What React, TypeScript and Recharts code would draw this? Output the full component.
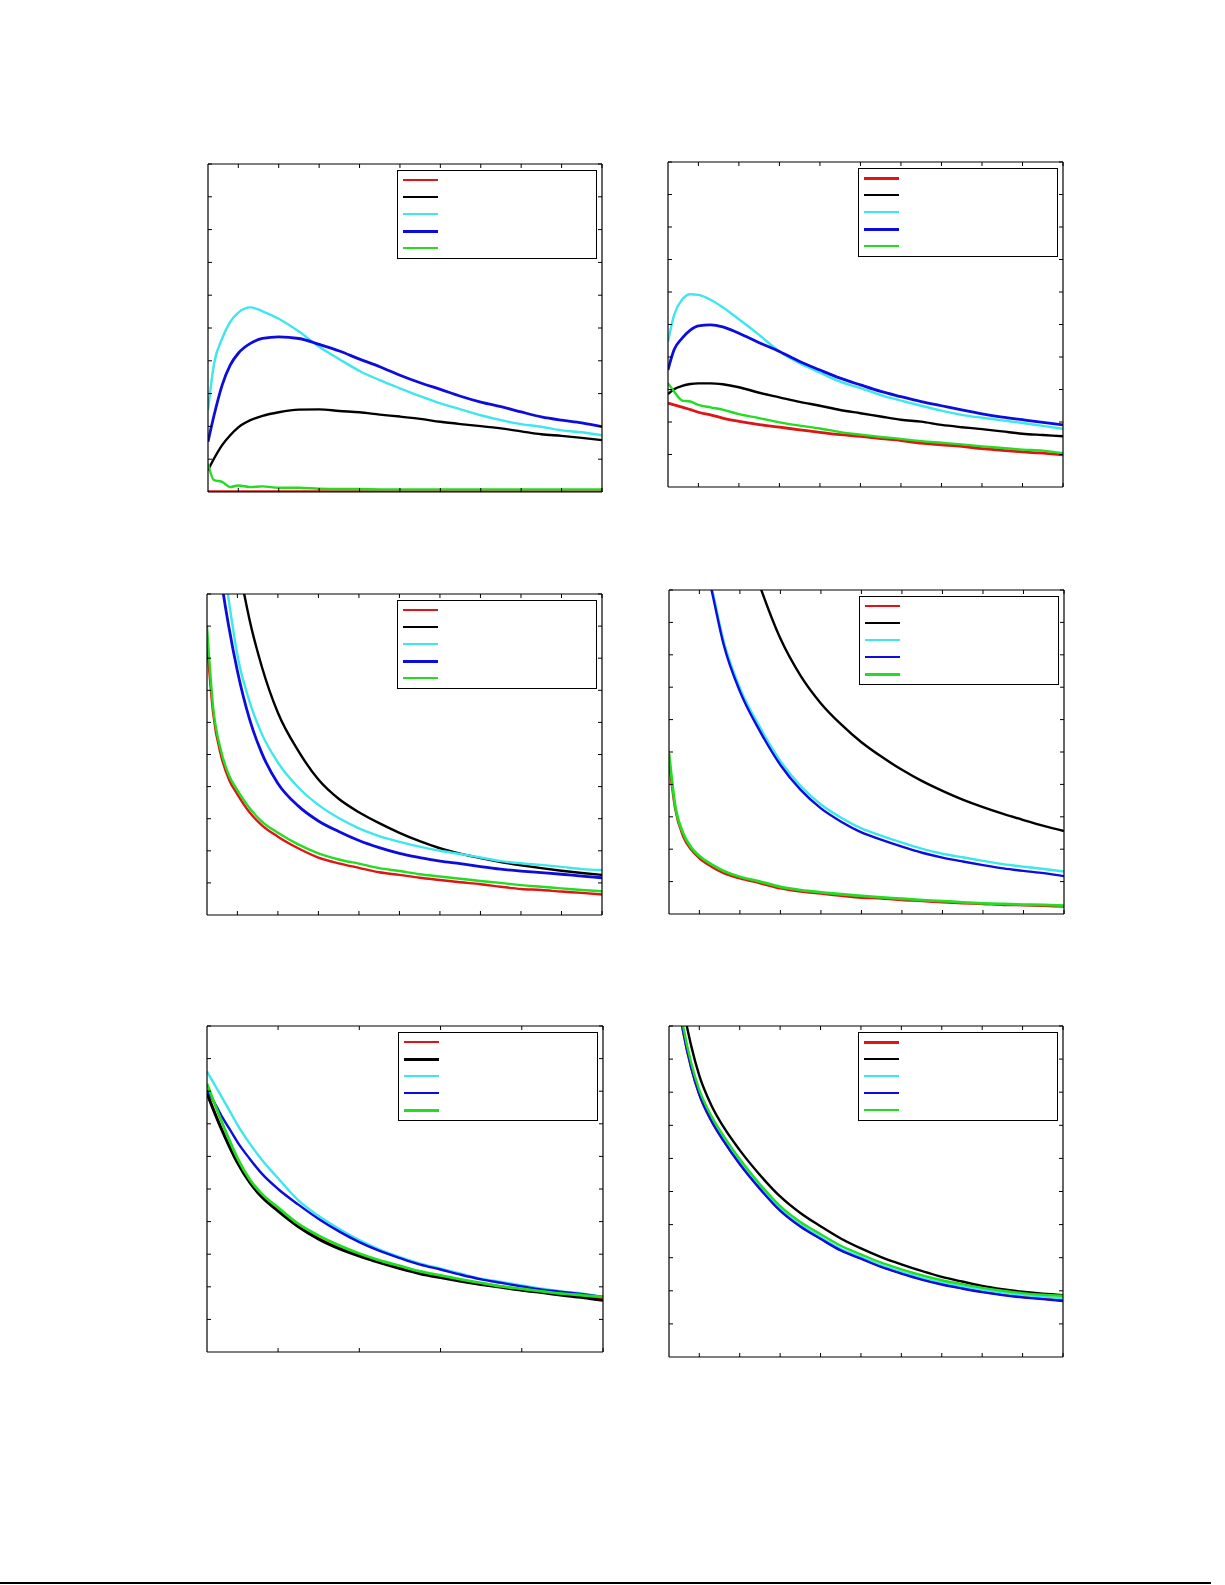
import React from "react";
import { LineChart, Line, XAxis, YAxis, Legend } from "recharts";

// shared x grid (data units), axis ticks
const X_VALUES = [0.25, 0.4, 0.6, 0.8, 1.0, 1.3, 1.6, 2.0, 2.5, 3.0, 3.5, 4.0, 4.5, 5.0, 5.5, 6.0, 6.5, 7.0, 7.5, 8.0, 8.5, 9.0, 9.5, 10];
const X_TICKS = [1, 2, 3, 4, 5, 6, 7, 8, 9, 10];
const X_TICKS_WIDE = [2, 4, 6, 8, 10];
const Y_TICKS = [0, 1, 2, 3, 4, 5, 6, 7, 8, 9, 10];

// panel 1 (top left)
const P1_RED = [0.02, 0.02, 0.02, 0.02, 0.02, 0.02, 0.02, 0.02, 0.02, 0.02, 0.02, 0.02, 0.02, 0.02, 0.02, 0.02, 0.02, 0.02, 0.02, 0.02, 0.02, 0.02, 0.02, 0.02];
const P1_BLACK = [0.66, 1.02, 1.43, 1.73, 1.97, 2.19, 2.32, 2.43, 2.51, 2.52, 2.47, 2.43, 2.36, 2.3, 2.23, 2.14, 2.07, 2.01, 1.94, 1.85, 1.76, 1.71, 1.65, 1.58];
const P1_CYAN = [2.49, 3.91, 4.68, 5.19, 5.47, 5.63, 5.51, 5.28, 4.89, 4.43, 4.05, 3.69, 3.41, 3.16, 2.92, 2.7, 2.52, 2.34, 2.19, 2.07, 1.99, 1.88, 1.82, 1.73];
const P1_BLUE = [1.53, 2.34, 3.26, 3.87, 4.23, 4.53, 4.68, 4.73, 4.68, 4.5, 4.3, 4.05, 3.82, 3.56, 3.33, 3.13, 2.92, 2.74, 2.6, 2.44, 2.29, 2.19, 2.11, 1.99];
const P1_GREEN = [0.87, 0.36, 0.31, 0.15, 0.2, 0.15, 0.17, 0.13, 0.13, 0.1, 0.09, 0.09, 0.08, 0.08, 0.08, 0.08, 0.08, 0.08, 0.08, 0.08, 0.08, 0.08, 0.08, 0.08];

// panel 2 (top right)
const P2_RED = [2.58, 2.53, 2.46, 2.38, 2.3, 2.22, 2.12, 2.02, 1.92, 1.84, 1.76, 1.68, 1.61, 1.56, 1.49, 1.43, 1.35, 1.3, 1.25, 1.18, 1.13, 1.08, 1.04, 0.99];
const P2_BLACK = [2.86, 3.01, 3.11, 3.17, 3.19, 3.19, 3.16, 3.07, 2.9, 2.76, 2.62, 2.5, 2.37, 2.27, 2.17, 2.07, 2.01, 1.91, 1.84, 1.78, 1.71, 1.64, 1.6, 1.56];
const P2_CYAN = [4.47, 5.29, 5.77, 5.93, 5.91, 5.76, 5.53, 5.16, 4.68, 4.17, 3.81, 3.52, 3.24, 3.04, 2.83, 2.66, 2.5, 2.35, 2.22, 2.13, 2.05, 1.97, 1.88, 1.79];
const P2_BLUE = [3.6, 4.22, 4.58, 4.83, 4.96, 4.99, 4.93, 4.73, 4.44, 4.17, 3.86, 3.6, 3.35, 3.14, 2.94, 2.78, 2.63, 2.5, 2.37, 2.25, 2.15, 2.07, 1.99, 1.91];
const P2_GREEN = [3.19, 2.94, 2.66, 2.63, 2.53, 2.45, 2.38, 2.24, 2.12, 1.99, 1.89, 1.8, 1.69, 1.61, 1.54, 1.48, 1.41, 1.36, 1.31, 1.25, 1.2, 1.15, 1.12, 1.04];

// panel 3 (middle left)
const P3_RED = [8.5, 6.3, 4.95, 4.2, 3.76, 3.2, 2.8, 2.44, 2.08, 1.79, 1.61, 1.47, 1.33, 1.25, 1.16, 1.09, 1.02, 0.96, 0.88, 0.81, 0.78, 0.73, 0.69, 0.64];
const P3_BLACK = [19, 17, 15, 13, 11.2, 9.2, 7.75, 6.3, 5.12, 4.22, 3.62, 3.2, 2.86, 2.56, 2.3, 2.08, 1.91, 1.77, 1.65, 1.55, 1.46, 1.38, 1.31, 1.25];
const P3_CYAN = [16, 14, 11.5, 9.7, 8.1, 6.65, 5.65, 4.75, 3.98, 3.43, 3.02, 2.7, 2.46, 2.28, 2.13, 2.0, 1.9, 1.79, 1.68, 1.61, 1.56, 1.5, 1.43, 1.4];
const P3_BLUE = [15, 13, 10.5, 8.9, 7.6, 6.1, 5.05, 4.1, 3.4, 2.93, 2.6, 2.32, 2.1, 1.92, 1.79, 1.68, 1.6, 1.51, 1.43, 1.37, 1.32, 1.27, 1.21, 1.16];
const P3_GREEN = [9.0, 6.5, 5.1, 4.33, 3.89, 3.33, 2.92, 2.56, 2.2, 1.92, 1.73, 1.6, 1.46, 1.37, 1.27, 1.2, 1.13, 1.06, 1.0, 0.93, 0.88, 0.83, 0.78, 0.74];

// panel 4 (middle right)
const P4_RED = [4.71, 3.26, 2.39, 1.98, 1.72, 1.46, 1.26, 1.1, 0.95, 0.79, 0.69, 0.63, 0.56, 0.5, 0.48, 0.43, 0.4, 0.36, 0.33, 0.31, 0.28, 0.27, 0.25, 0.23];
const P4_BLACK = [24, 22, 20, 18, 17, 15, 13.5, 12, 10.1, 8.5, 7.35, 6.5, 5.85, 5.3, 4.85, 4.45, 4.1, 3.8, 3.53, 3.3, 3.09, 2.9, 2.72, 2.56];
const P4_CYAN = [20.1, 18.1, 15.6, 13.6, 11.7, 10.1, 8.42, 6.98, 5.75, 4.72, 3.95, 3.38, 2.97, 2.64, 2.41, 2.2, 2.01, 1.86, 1.75, 1.64, 1.54, 1.46, 1.39, 1.31];
const P4_BLUE = [20, 18, 15.5, 13.5, 11.6, 10.0, 8.31, 6.87, 5.63, 4.6, 3.83, 3.26, 2.85, 2.52, 2.29, 2.08, 1.89, 1.74, 1.62, 1.51, 1.41, 1.33, 1.26, 1.17];
const P4_GREEN = [4.96, 3.37, 2.49, 2.05, 1.79, 1.53, 1.33, 1.15, 1.0, 0.84, 0.74, 0.67, 0.61, 0.56, 0.51, 0.47, 0.43, 0.4, 0.36, 0.33, 0.31, 0.29, 0.28, 0.26];

// panel 5 (bottom left)
const P5_RED = [7.95, 7.48, 6.88, 6.33, 5.83, 5.23, 4.78, 4.35, 3.87, 3.49, 3.2, 2.97, 2.77, 2.59, 2.43, 2.31, 2.2, 2.1, 2.01, 1.92, 1.85, 1.77, 1.7, 1.62];
const P5_BLACK = [7.92, 7.45, 6.85, 6.3, 5.8, 5.2, 4.75, 4.32, 3.84, 3.46, 3.17, 2.94, 2.74, 2.56, 2.4, 2.28, 2.17, 2.07, 1.98, 1.89, 1.82, 1.74, 1.67, 1.58];
const P5_CYAN = [8.61, 8.28, 7.85, 7.41, 6.97, 6.4, 5.9, 5.33, 4.65, 4.17, 3.78, 3.43, 3.14, 2.91, 2.71, 2.56, 2.4, 2.25, 2.15, 2.04, 1.94, 1.86, 1.79, 1.69];
const P5_BLUE = [8.03, 7.72, 7.26, 6.85, 6.44, 5.93, 5.47, 5.0, 4.52, 4.08, 3.7, 3.37, 3.1, 2.88, 2.68, 2.53, 2.37, 2.23, 2.12, 2.01, 1.91, 1.84, 1.77, 1.69];
const P5_GREEN = [8.23, 7.74, 7.1, 6.5, 5.95, 5.3, 4.85, 4.43, 3.93, 3.57, 3.27, 3.02, 2.81, 2.64, 2.47, 2.35, 2.23, 2.12, 2.01, 1.94, 1.86, 1.79, 1.74, 1.69];

// panel 6 (bottom right)
const P6_RED = [12.52, 11.42, 9.86, 8.76, 7.95, 7.15, 6.55, 5.85, 5.1, 4.44, 3.96, 3.59, 3.24, 2.99, 2.74, 2.54, 2.36, 2.21, 2.09, 1.98, 1.89, 1.82, 1.77, 1.71];
const P6_BLACK = [14, 12.5, 10.6, 9.4, 8.5, 7.6, 6.95, 6.25, 5.5, 4.85, 4.35, 3.95, 3.58, 3.28, 3.02, 2.8, 2.6, 2.42, 2.28, 2.15, 2.05, 1.97, 1.91, 1.87];
const P6_CYAN = [12.55, 11.45, 9.89, 8.79, 7.98, 7.18, 6.58, 5.88, 5.13, 4.47, 3.99, 3.62, 3.27, 3.02, 2.77, 2.57, 2.39, 2.25, 2.13, 2.03, 1.94, 1.87, 1.82, 1.77];
const P6_BLUE = [12.5, 11.4, 9.84, 8.74, 7.93, 7.13, 6.53, 5.83, 5.08, 4.42, 3.94, 3.57, 3.22, 2.97, 2.72, 2.52, 2.34, 2.19, 2.07, 1.96, 1.87, 1.8, 1.75, 1.69];
const P6_GREEN = [12.8, 11.6, 10.0, 8.88, 8.07, 7.28, 6.68, 5.98, 5.22, 4.56, 4.08, 3.71, 3.36, 3.1, 2.85, 2.65, 2.47, 2.32, 2.2, 2.09, 2.0, 1.93, 1.88, 1.85];

const KEYS = ["red", "black", "cyan", "blue", "green"];
const COLORS: Record<string, string> = {
  red: "#e11414",
  black: "#000000",
  cyan: "#3ee6ee",
  blue: "#0c0cde",
  green: "#22dd22",
};

const panels = [
  { left: 208, top: 164, w: 394, h: 328, xTicks: X_TICKS, series: [P1_RED, P1_BLACK, P1_CYAN, P1_BLUE, P1_GREEN], lw: [2.4, 2.4, 2.4, 2.8, 2.4], legend: [2, 2, 2, 3, 2] },
  { left: 668, top: 162, w: 395, h: 325, xTicks: X_TICKS, series: [P2_RED, P2_BLACK, P2_CYAN, P2_BLUE, P2_GREEN], lw: [2.8, 2.4, 2.4, 2.8, 2.4], legend: [3, 2, 2, 3, 2] },
  { left: 207, top: 594, w: 395, h: 321, xTicks: X_TICKS, series: [P3_RED, P3_BLACK, P3_CYAN, P3_BLUE, P3_GREEN], lw: [2.4, 2.4, 2.4, 2.8, 2.4], legend: [2, 2, 2, 3, 2] },
  { left: 669, top: 590, w: 395, h: 324, xTicks: X_TICKS, series: [P4_RED, P4_BLACK, P4_CYAN, P4_BLUE, P4_GREEN], lw: [2.4, 2.4, 2.4, 2.4, 2.8], legend: [2, 2, 2, 2, 3] },
  { left: 207, top: 1026, w: 396, h: 326, xTicks: X_TICKS_WIDE, series: [P5_RED, P5_BLACK, P5_CYAN, P5_BLUE, P5_GREEN], lw: [2.4, 2.8, 2.4, 2.4, 2.8], legend: [2, 3, 2, 2, 3] },
  { left: 669, top: 1026, w: 394, h: 331, xTicks: X_TICKS, series: [P6_RED, P6_BLACK, P6_CYAN, P6_BLUE, P6_GREEN], lw: [2.8, 2.4, 2.4, 2.4, 2.4], legend: [3, 2, 2, 2, 2] },
];

const ROW_Y = [9, 26, 43, 60, 77];
const PAD = 2;

const NoLabel = () => <g />;

const LegendBox = ({ widths }: { widths: number[] }) => (
  <div
    style={{
      width: 200,
      height: 89,
      border: "1px solid #000",
      background: "#fff",
      boxSizing: "border-box",
      position: "relative",
    }}
  >
    {KEYS.map((k, i) => (
      <div
        key={k}
        style={{
          position: "absolute",
          left: 5,
          top: ROW_Y[i] - widths[i] / 2,
          width: 35,
          height: widths[i],
          background: COLORS[k],
        }}
      />
    ))}
  </div>
);

const axisProps = {
  allowDataOverflow: true,
  mirror: true,
  tick: NoLabel,
  tickSize: 4,
  tickLine: { stroke: "#000", strokeWidth: 1 },
  axisLine: { stroke: "#000", strokeWidth: 1.2 },
};

const Panel = ({ p }: { p: (typeof panels)[number] }) => {
  const data = X_VALUES.map((x, i) => {
    const row: Record<string, number> = { x };
    KEYS.forEach((k, j) => {
      row[k] = p.series[j][i];
    });
    return row;
  });
  return (
    <div style={{ position: "absolute", left: p.left - PAD, top: p.top - PAD }}>
      <LineChart
        width={p.w + PAD * 2}
        height={p.h + PAD * 2}
        data={data}
        margin={{ top: PAD, right: PAD, bottom: PAD, left: PAD }}
      >
        <XAxis xAxisId="b" dataKey="x" type="number" domain={[0.25, 10]} ticks={p.xTicks} {...axisProps} />
        <XAxis xAxisId="t" orientation="top" dataKey="x" type="number" domain={[0.25, 10]} ticks={p.xTicks} {...axisProps} />
        <YAxis yAxisId="l" type="number" domain={[0, 10]} ticks={Y_TICKS} {...axisProps} />
        <YAxis yAxisId="r" orientation="right" type="number" domain={[0, 10]} ticks={Y_TICKS} {...axisProps} />
        {KEYS.map((k, j) => (
          <Line
            key={k}
            xAxisId="b"
            yAxisId="l"
            type="monotone"
            dataKey={k}
            stroke={COLORS[k]}
            strokeWidth={p.lw[j]}
            dot={false}
            isAnimationActive={false}
          />
        ))}
        <Legend
          layout="horizontal"
          align="center"
          verticalAlign="middle"
          content={() => <LegendBox widths={p.legend} />}
          wrapperStyle={{ top: PAD + 6, right: PAD + 5, left: "auto", width: 200, height: 89 }}
        />
      </LineChart>
    </div>
  );
};

const App = () => {
  return (
    <div style={{ position: "absolute", left: 0, top: 0, width: 1225, height: 1585, background: "#fff" }}>
      {panels.map((p, i) => (
        <Panel key={i} p={p} />
      ))}
      <div style={{ position: "absolute", left: 0, top: 1582, width: 1211, height: 2, background: "#000" }} />
    </div>
  );
};

export default App;
